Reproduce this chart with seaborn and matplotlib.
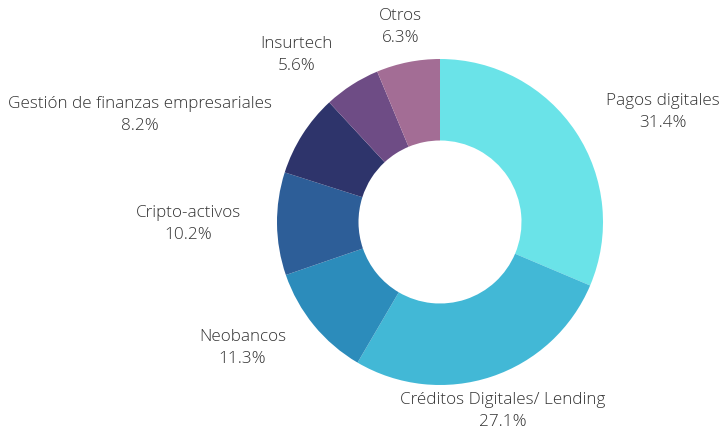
import numpy as np
import matplotlib
matplotlib.use("Agg")
import matplotlib.pyplot as plt
import seaborn as sns

# datos del gráfico
categorias = ["Pagos digitales", "Créditos Digitales/ Lending", "Neobancos",
              "Cripto-activos", "Gestión de finanzas empresariales",
              "Insurtech", "Otros"]
porcentajes = [31.4, 27.1, 11.3, 10.2, 8.2, 5.6, 6.3]
colores = ["#6AE3E8", "#42B8D6", "#2C8CBB", "#2D5E98",
           "#2E346B", "#6E4C85", "#A36D95"]

sns.set_theme(style="white")
plt.rcParams["font.family"] = ["Open Sans", "DejaVu Sans"]
paleta = sns.color_palette(colores)

fig = plt.figure(figsize=(7.22, 4.32), dpi=100)
ax = fig.add_axes([0, 0, 1, 1])

wedges, _ = ax.pie(porcentajes, colors=paleta, startangle=90, counterclock=False,
                   radius=1, wedgeprops=dict(width=0.5, linewidth=0))

# etiquetas fuera del anillo
r_label = 1.22
for w, cat, p in zip(wedges, categorias, porcentajes):
    ang = np.deg2rad((w.theta1 + w.theta2) / 2)
    x, y = r_label * np.cos(ang), r_label * np.sin(ang)
    if abs(np.cos(ang)) < 0.4:
        ha = "center"
    elif np.cos(ang) > 0:
        ha = "left"
    else:
        ha = "right"
    ax.text(x, y, f"{cat}\n{p}%", ha=ha, va="center", multialignment="center",
            fontsize=12.3, color="#333333", linespacing=1.5, fontweight="light")

ax.set_xlim(-440 / 163, 282 / 163)
ax.set_ylim(-210 / 163, 222 / 163)
ax.axis("off")

plt.savefig("out.png", dpi=100, facecolor="white")
plt.close()
